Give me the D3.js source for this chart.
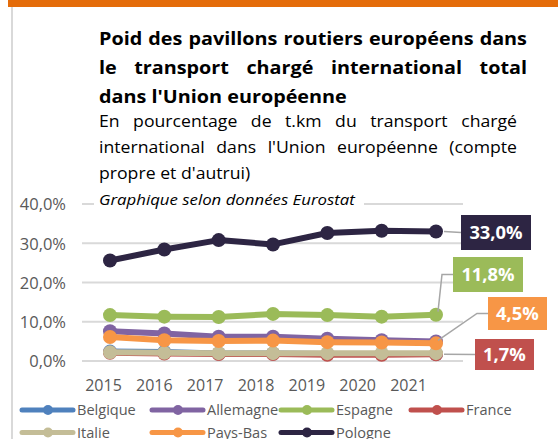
<!DOCTYPE html>
<html><head><meta charset="utf-8">
<script src="https://cdn.jsdelivr.net/npm/d3@7"></script>
<style>body{margin:0;background:#fff}svg{display:block}</style>
</head><body>
<svg id="c" width="558" height="439"></svg>
<script>
const years = ["2015","2016","2017","2018","2019","2020","2021"];
const yTicks = [0, 10, 20, 30, 40];
const seriesNames = ["Belgique","Allemagne","Espagne","France","Italie","Pays-Bas","Pologne"];
const seriesColors = ["#4f81bd","#8064a2","#9bbb59","#c0504d","#c4bd97","#f79646","#2d2543"];
const belgique  = [2.4, 2.3, 1.9, 1.9, 1.8, 1.8, 1.8];
const allemagne = [7.6, 7.0, 6.2, 6.2, 5.7, 5.3, 5.0];
const espagne   = [11.7, 11.3, 11.2, 12.0, 11.7, 11.3, 11.8];
const france    = [2.1, 1.9, 1.8, 1.8, 1.6, 1.6, 1.7];
const italie    = [2.2, 2.1, 2.0, 2.0, 2.0, 2.0, 2.0];
const paysBas   = [6.1, 5.3, 5.1, 5.2, 4.8, 4.7, 4.5];
const pologne   = [25.6, 28.4, 30.8, 29.7, 32.6, 33.2, 33.0];
const seriesValues = [belgique, allemagne, espagne, france, italie, paysBas, pologne];
const endLabels = [
  {series: 6, text: "33,0%", color: "#2d2543"},
  {series: 2, text: "11,8%", color: "#9bbb59"},
  {series: 5, text: "4,5%",  color: "#f79646"},
  {series: 3, text: "1,7%",  color: "#c0504d"}
];
const titleLines = ["Poid des pavillons routiers européens dans", "le transport chargé international total", "dans l'Union européenne"];
const subtitleLines = ["En pourcentage de t.km du transport chargé", "international dans l'Union européenne (compte", "propre et d'autrui)"];
const sourceText = "Graphique selon données Eurostat";

const svg = d3.select("#c");
const FONT = "'Open Sans', sans-serif";

// frame decorations
svg.append("rect").attr("x", 8).attr("y", 0).attr("width", 550).attr("height", 7).attr("fill", "#e46c0a");
svg.append("line").attr("x1", 12).attr("x2", 12).attr("y1", 7).attr("y2", 439).attr("stroke", "#d9d9d9").attr("stroke-width", 2);

// scales
const x = d3.scalePoint().domain(years).range([110, 436]);
const xLab = d3.scalePoint().domain(years).range([103, 408]);
const y = d3.scaleLinear().domain([0, 40]).range([361, 204]);

// gridlines
svg.append("g").selectAll("line").data(yTicks).join("line")
  .attr("x1", 82).attr("x2", 463)
  .attr("y1", d => y(d)).attr("y2", d => y(d))
  .attr("stroke", "#d9d9d9").attr("stroke-width", 2);

// y axis
const yAxis = svg.append("g").attr("transform", "translate(66,0)")
  .call(d3.axisLeft(y).tickValues(yTicks).tickSize(0).tickPadding(0)
    .tickFormat(d => d.toFixed(1).replace(".", ",") + "%"));
yAxis.select(".domain").remove();
yAxis.selectAll("text").attr("font-family", FONT).attr("font-size", 16.5).attr("fill", "#595959").attr("dy", "0.36em");

// x axis labels
const xAxis = svg.append("g").attr("transform", "translate(0,380)")
  .call(d3.axisBottom(xLab).tickSize(0).tickPadding(0));
xAxis.select(".domain").remove();
xAxis.selectAll("text").attr("font-family", FONT).attr("font-size", 16).attr("fill", "#595959").attr("dy", "0.71em");

// text helper (optionally justified, with horizontal scale)
function textLine(words, x0, x1, yb, size, weight, justify, style, sx) {
  const g = svg.append("g");
  const nodes = words.map(w => g.append("text").text(w)
    .attr("font-family", FONT).attr("font-size", size).attr("font-weight", weight)
    .attr("font-style", style || "normal").attr("fill", "#000"));
  const widths = nodes.map(n => n.node().getComputedTextLength() * sx);
  const sp = size * 0.26 * sx;
  const total = d3.sum(widths);
  let gap = justify && words.length > 1 ? (x1 - x0 - total) / (words.length - 1) : sp;
  if (gap < sp * 0.7) gap = sp * 0.7;
  let cx = x0;
  nodes.forEach((n, i) => { n.attr("transform", `translate(${cx},${yb}) scale(${sx},1)`); cx += widths[i] + gap; });
}
const titleBase = [44.5, 73.5, 102.5];
titleLines.forEach((l, i) => textLine(l.split(" "), 99, 527, titleBase[i], 18.5, "bold", i < 2, "normal", 1.07));
const subBase = [127, 152.5, 178.5];
subtitleLines.forEach((l, i) => textLine(l.split(" "), 99, 517, subBase[i], 16.5, "normal", i < 2, "normal", 1.07));

// source with white background
svg.append("rect").attr("x", 94).attr("y", 191).attr("width", 270).attr("height", 20).attr("fill", "#fff");
textLine(sourceText.split(" "), 99, 360, 205, 14, "normal", false, "italic", 1.2);

// series
const line = d3.line().x((d, i) => x(years[i])).y(d => y(d));
seriesValues.forEach((vals, s) => {
  const g = svg.append("g");
  g.append("path").attr("d", line(vals)).attr("fill", "none")
    .attr("stroke", seriesColors[s]).attr("stroke-width", 6).attr("stroke-linejoin", "round");
  g.selectAll("circle").data(vals).join("circle")
    .attr("cx", (d, i) => x(years[i])).attr("cy", d => y(d)).attr("r", 7)
    .attr("fill", seriesColors[s]);
});

// end labels with leader lines
const last = years.length - 1;
const lx = x(years[last]);
const boxes = [
  {x: 461, y: 215, w: 70, h: 35, knee: null},
  {x: 453, y: 257, w: 70, h: 35, knee: [442, 274.5]},
  {x: 488, y: 297, w: 59, h: 33, knee: [477, 313.5]},
  {x: 475, y: 339, w: 59, h: 31, knee: null}
];
endLabels.forEach((lab, k) => {
  const b = boxes[k];
  const py = y(seriesValues[lab.series][last]);
  const cyBox = b.y + b.h / 2;
  let pts;
  if (b.knee) pts = [[lx + 2, py - 3], b.knee, [b.x, b.knee[1]]];
  else pts = [[lx + 8, py], [b.x, cyBox]];
  svg.append("path").attr("d", d3.line()(pts)).attr("fill", "none")
    .attr("stroke", "#a6a6a6").attr("stroke-width", 1.5);
  svg.append("rect").attr("x", b.x).attr("y", b.y).attr("width", b.w).attr("height", b.h).attr("fill", lab.color);
  svg.append("text").attr("transform", `translate(${b.x + b.w / 2},${cyBox}) scale(1.08,1)`).attr("dy", "0.36em")
    .attr("text-anchor", "middle").attr("font-family", FONT).attr("font-weight", "bold")
    .attr("font-size", 17).attr("fill", "#fff").text(lab.text);
});

// legend
const legX = [22, 152, 281, 411];
const legend = svg.append("g");
seriesNames.forEach((name, i) => {
  const col = i % 4, row = Math.floor(i / 4);
  const lx0 = legX[col], ly = 410 + row * 22.5;
  legend.append("line").attr("x1", lx0).attr("x2", lx0 + 51).attr("y1", ly).attr("y2", ly)
    .attr("stroke", seriesColors[i]).attr("stroke-width", 5).attr("stroke-linecap", "round");
  legend.append("circle").attr("cx", lx0 + 26).attr("cy", ly).attr("r", 5).attr("fill", seriesColors[i]);
  legend.append("text").attr("transform", `translate(${lx0 + 55},${ly}) scale(1.04,1)`).attr("dy", "0.36em")
    .attr("font-family", FONT).attr("font-size", 14).attr("fill", "#595959").text(name);
});
</script>
</body></html>
